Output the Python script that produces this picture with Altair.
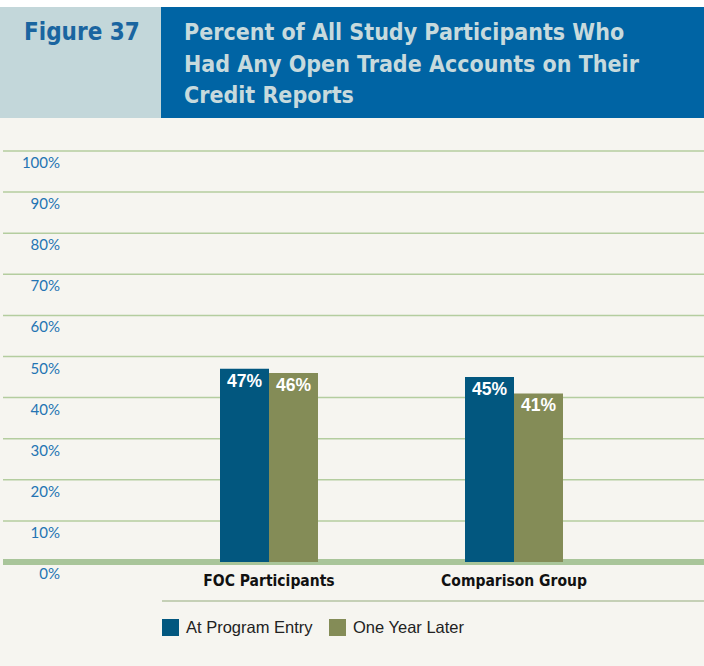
import altair as alt
import pandas as pd

# ---- data ----
categories = ["FOC Participants", "Comparison Group"]
series = ["At Program Entry", "One Year Later"]
at_entry = [47, 45]
one_year_later = [46, 41]
tick_values = [0, 10, 20, 30, 40, 50, 60, 70, 80, 90, 100]
tick_labels = ["0%", "10%", "20%", "30%", "40%", "50%", "60%", "70%", "80%", "90%", "100%"]
fig_label = "Figure 37"
title_lines = ["Percent of All Study Participants Who",
               "Had Any Open Trade Accounts on Their",
               "Credit Reports"]

# ---- styles ----
BLUE = "#02577f"
GREEN = "#848c57"
CREAM = "#f6f5f0"
HEAD_LIGHT = "#c3d7da"
HEAD_DARK = "#0064a4"
GRID = "#b4cd9f"
BASE = "#a9c59a"
NARROW = "DejaVu Sans Condensed, sans-serif"
TICKFONT = "Lato, Noto Sans, sans-serif"

rows = []
for c, a, b in zip(categories, at_entry, one_year_later):
    rows.append({"group": c, "series": series[0], "value": a, "label": f"{a}%"})
    rows.append({"group": c, "series": series[1], "value": b, "label": f"{b}%"})
bars_df = pd.DataFrame(rows)
ticks_df = pd.DataFrame({"v": tick_values, "lab": tick_labels})
grid_df = ticks_df[ticks_df.v > 0]
base_df = ticks_df[ticks_df.v == 0]
cat_df = pd.DataFrame({"group": categories})

xscale = alt.Scale(domain=categories, range=[146.5, 636.5], paddingInner=0.6, paddingOuter=0.3)
yscale = alt.Scale(domain=[0, 100], range=[562, 151])
X = alt.X("group:N", scale=xscale, axis=None)
XO = alt.XOffset("series:N", sort=series, scale=alt.Scale(domain=series, paddingInner=0, paddingOuter=0))
Y = alt.Y("value:Q", scale=yscale, axis=None)

one = pd.DataFrame({"k": [0]})

# decoration: background panels
cream = alt.Chart(one).mark_rect(color=CREAM).encode(
    x=alt.value(0), x2=alt.value(704), y=alt.value(7), y2=alt.value(666))
head_light = alt.Chart(one).mark_rect(color=HEAD_LIGHT).encode(
    x=alt.value(0), x2=alt.value(161), y=alt.value(7), y2=alt.value(118))
head_dark = alt.Chart(one).mark_rect(color=HEAD_DARK).encode(
    x=alt.value(161), x2=alt.value(704), y=alt.value(7), y2=alt.value(118))
fig_text = alt.Chart(one).mark_text(
    text=fig_label, font=NARROW, fontWeight="bold", fontSize=24, color="#1a65a0",
    align="left", baseline="alphabetic").encode(x=alt.value(24), y=alt.value(40))
title_text = alt.Chart(one).mark_text(
    text=title_lines, font=NARROW, fontWeight="bold", fontSize=23, color="#c7dadd",
    align="left", baseline="alphabetic", lineHeight=31.5).encode(x=alt.value(184), y=alt.value(40))

# gridlines
grid = alt.Chart(grid_df).mark_rule(color=GRID, strokeWidth=1.5).encode(
    y=alt.Y("v:Q", scale=yscale, axis=None), x=alt.value(3), x2=alt.value(704))
base = alt.Chart(base_df).mark_rule(color=BASE, strokeWidth=6).encode(
    y=alt.Y("v:Q", scale=yscale, axis=None), x=alt.value(3), x2=alt.value(704))
ylabels = alt.Chart(ticks_df).mark_text(
    align="right", baseline="middle", dy=12, font=TICKFONT, fontSize=15, color="#2474b3").encode(
    y=alt.Y("v:Q", scale=yscale, axis=None), x=alt.value(60), text="lab:N")

bars = alt.Chart(bars_df).mark_bar().encode(
    x=X, xOffset=XO, y=Y,
    color=alt.Color("series:N", scale=alt.Scale(domain=series, range=[BLUE, GREEN]),
                    legend=alt.Legend(orient="none", legendX=162, legendY=619, direction="horizontal",
                                      title=None, symbolType="square", symbolSize=289,
                                      symbolStrokeWidth=0, symbolOpacity=1,
                                      labelFont="Liberation Sans, sans-serif", labelFontSize=16.5,
                                      labelColor="#222222", columnPadding=16, labelOffset=7)))
bar_labels = alt.Chart(bars_df).mark_text(
    color="white", fontWeight="bold", fontSize=17.5, font="Liberation Sans, sans-serif",
    baseline="middle", dy=13).encode(x=X, xOffset=XO, y=Y, text="label:N")

xlabels = alt.Chart(cat_df).mark_text(
    font=NARROW, fontWeight="bold", fontSize=15.5, color="#111111", baseline="middle").encode(
    x=X, y=alt.value(581), text="group:N")
under_rule = alt.Chart(one).mark_rule(color="#c5d0b6", strokeWidth=2).encode(
    x=alt.value(162), x2=alt.value(704), y=alt.value(601))

chart = alt.layer(
    cream, head_light, head_dark, fig_text, title_text,
    grid, base, ylabels, bars, bar_labels, xlabels, under_rule
).properties(
    width=704, height=666, padding=0, autosize=alt.AutoSizeParams(type="none"),
    background="#ffffff"
).configure_view(stroke=None)

chart.save("out.html", embed_options={"renderer": "svg", "actions": False})
